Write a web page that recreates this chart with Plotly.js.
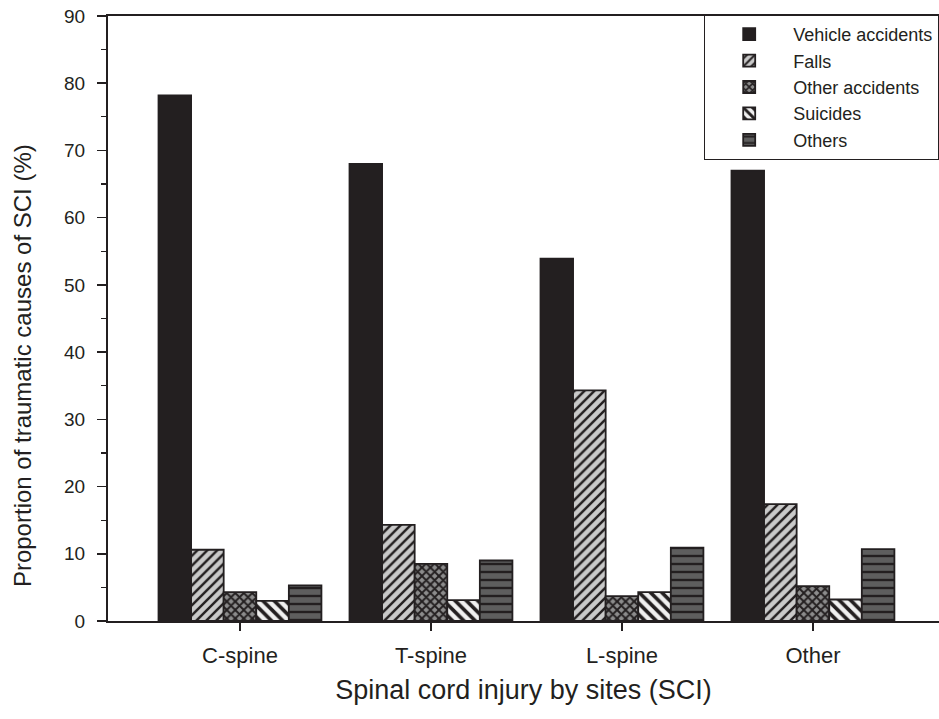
<!DOCTYPE html>
<html>
<head>
<meta charset="utf-8">
<script src="https://cdn.plot.ly/plotly-3.0.1.min.js"></script>
<style>html,body{margin:0;padding:0;background:#fff;}#chart{width:939px;height:719px;}</style>
</head>
<body>
<div id="chart"></div>
<script>
const categories = ["C-spine", "T-spine", "L-spine", "Other"];
const vehicleAccidents = [78.2, 68.0, 53.9, 67.0];
const falls = [10.6, 14.3, 34.3, 17.4];
const otherAccidents = [4.3, 8.5, 3.7, 5.2];
const suicides = [3.0, 3.1, 4.3, 3.2];
const others = [5.3, 9.0, 10.9, 10.7];
const yTicks = [0, 10, 20, 30, 40, 50, 60, 70, 80, 90];
const yTitle = "Proportion of traumatic causes of SCI (%)";
const xTitle = "Spinal cord injury by sites (SCI)";

const lineStyle = {color: "#231f20", width: 1.8};
function bar(name, y, fill, pattern) {
  const m = {color: fill, line: lineStyle};
  if (pattern) m.pattern = pattern;
  return {type: "bar", name: name, x: categories, y: y, marker: m};
}
const traces = [
  bar("Vehicle accidents", vehicleAccidents, "#231f20"),
  bar("Falls", falls, "#c9c9c9", {shape: "/", fgcolor: "#231f20", bgcolor: "#c9c9c9", size: 7, solidity: 0.35}),
  bar("Other accidents", otherAccidents, "#8c8c8c", {shape: "x", fgcolor: "#231f20", bgcolor: "#8c8c8c", size: 6, solidity: 0.55}),
  bar("Suicides", suicides, "#f0f0f0", {shape: "\\", fgcolor: "#231f20", bgcolor: "#f0f0f0", size: 8, solidity: 0.45}),
  bar("Others", others, "#5e5e5e", {shape: "-", fgcolor: "#231f20", bgcolor: "#5e5e5e", size: 8, solidity: 0.3})
];

const font = "Liberation Sans, Arial, sans-serif";
const layout = {
  width: 939, height: 719,
  margin: {l: 108, r: 0, t: 16, b: 98},
  paper_bgcolor: "#fff", plot_bgcolor: "#fff",
  font: {family: font, color: "#231f20"},
  barmode: "group", bargap: 0.147, bargroupgap: 0,
  showlegend: true,
  legend: {
    x: 1, xanchor: "right", y: 1.002, yanchor: "top",
    bordercolor: "#231f20", borderwidth: 1.2, bgcolor: "#fff",
    font: {size: 18, family: font}, tracegroupgap: 0, itemwidth: 78
  },
  xaxis: {
    type: "category", range: [-0.691, 3.66],
    showline: true, linecolor: "#231f20", linewidth: 2, mirror: true,
    ticks: "outside", ticklen: 8, tickcolor: "#231f20", tickwidth: 1.5,
    ticklabelstandoff: 6,
    tickfont: {size: 22, family: font}, showgrid: false, zeroline: false,
    title: {text: xTitle, font: {size: 27, family: font}, standoff: 13}
  },
  yaxis: {
    range: [0, 90], tickvals: yTicks, ticktext: yTicks.map(String),
    showline: true, linecolor: "#231f20", linewidth: 2,
    ticks: "outside", ticklen: 9, tickcolor: "#231f20", tickwidth: 1.5,
    ticklabelstandoff: 8,
    minor: {dtick: 5, ticks: "outside", ticklen: 5, tickcolor: "#231f20", tickwidth: 1.2, showgrid: false},
    tickfont: {size: 19, family: font}, showgrid: false, zeroline: false
  },
  annotations: [{
    text: yTitle, textangle: -90, showarrow: false,
    xref: "paper", yref: "paper", x: -0.1035, y: 0.423,
    xanchor: "center", yanchor: "middle",
    font: {size: 24, family: font, color: "#231f20"}
  }]
};
Plotly.newPlot("chart", traces, layout, {displayModeBar: false, staticPlot: true});
</script>
</body>
</html>
